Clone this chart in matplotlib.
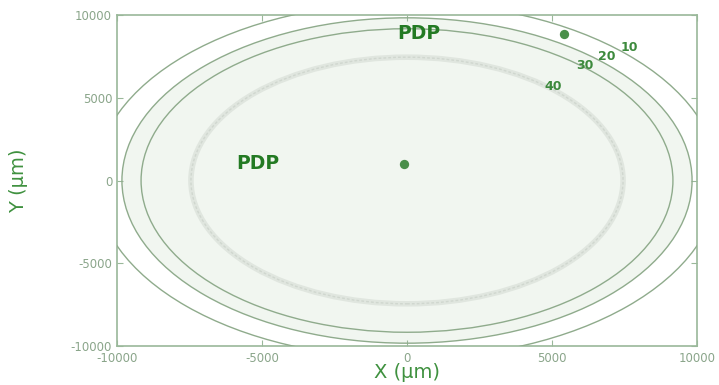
import matplotlib
matplotlib.use("Agg")
import matplotlib.pyplot as plt
from matplotlib.patches import Circle

plt.rcParams["axes.unicode_minus"] = False

# contour levels and their radii (µm)
levels = [10, 20, 30, 40]
radii = [10750, 9830, 9170, 7450]
level_label_x = [7650, 6890, 6125, 5050]
level_label_y = [8040, 7490, 6950, 5680]

# PDP points
pdp_x = [5400, -100]
pdp_y = [8880, 1000]
pdp_text_x = [400, -5150]
pdp_text_y = [8900, 1050]

ticks = [-10000, -5000, 0, 5000, 10000]

fig = plt.figure(figsize=(7.19, 3.85), dpi=100)
ax = fig.add_axes([117/719, 1-346/385, 580/719, 331/385])
ax.set_xlim(-10000, 10000)
ax.set_ylim(-10000, 10000)

fill_col = "#f1f6f0"
line_col = "#8fab8c"

# fill inside level-20 contour
ax.add_patch(Circle((0, 0), radii[1], transform=ax.transData,
                    facecolor=fill_col, edgecolor="none", zorder=1))

for lev, r in zip(levels, radii):
    if lev == 40:
        ax.add_patch(Circle((0, 0), r, transform=ax.transData, facecolor="none",
                            edgecolor="#e0e6df", lw=4.0, zorder=2))
        ax.add_patch(Circle((0, 0), r, transform=ax.transData, facecolor="none",
                            edgecolor="#d0d7cf", lw=1.0, ls=(0, (2, 1.5)), zorder=2))
    else:
        ax.add_patch(Circle((0, 0), r, transform=ax.transData, facecolor="none",
                            edgecolor=line_col, lw=1.0, zorder=3))

for lev, lx, ly in zip(levels, level_label_x, level_label_y):
    ax.text(lx, ly, str(lev), color="#3d8a3d", fontsize=9, fontweight="bold",
            ha="center", va="center", zorder=5)

ax.scatter(pdp_x, pdp_y, s=45, color="#4a8f4a", zorder=5, linewidths=0)
for tx, ty in zip(pdp_text_x, pdp_text_y):
    ax.text(tx, ty, "PDP", color="#237a23", fontsize=13.5, fontweight="bold",
            ha="center", va="center", zorder=5)

ax.set_xticks(ticks)
ax.set_yticks(ticks)
ax.tick_params(direction="in", length=4, width=0.8, color="#9ab89a",
               labelcolor="#8aa58a", labelsize=8.5, top=True, right=True)
ax.tick_params(axis="x", pad=4)
for sp in ax.spines.values():
    sp.set_color("#9ab89a")
    sp.set_linewidth(1.2)

ax.set_xlabel("X (µm)", color="#3f913f", fontsize=14, labelpad=-1)
ax.set_ylabel("Y (µm)", color="#3f913f", fontsize=14)
ax.yaxis.set_label_coords(-0.153, 0.5)

fig.savefig("out.png", dpi=100)
